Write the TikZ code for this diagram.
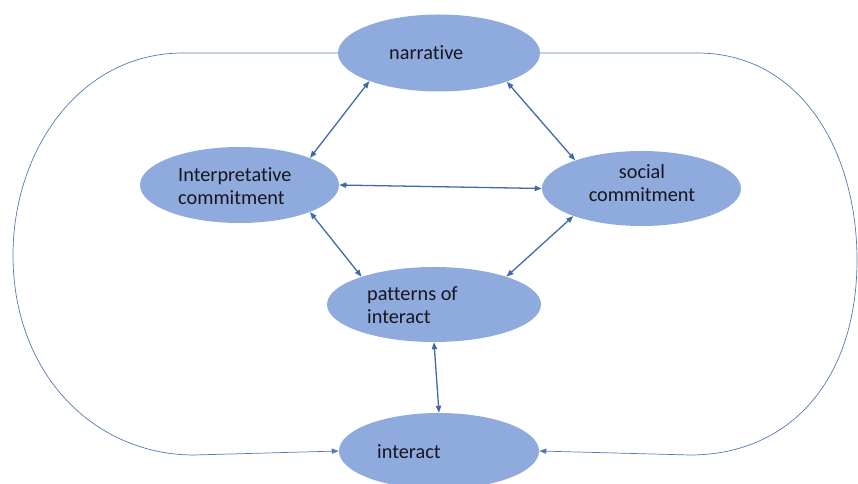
\documentclass[tikz,border=0pt]{standalone}
\usepackage{fontspec}
\setmainfont{Carlito}[Ligatures={NoCommon,NoContextual,NoRequired}]
\usepackage{xcolor}
\usetikzlibrary{arrows.meta,shapes.geometric}
\definecolor{blobfill}{HTML}{8FAADC}
\definecolor{linkcol}{HTML}{4069AB}
\definecolor{loopcol}{HTML}{5679B4}
\definecolor{inkcol}{HTML}{16161F}

\begin{document}
\begin{tikzpicture}[x=0.03cm, y=-0.03cm,
        blob/.style={ellipse, fill=blobfill, draw=none, inner sep=0pt,
            minimum width=6cm, minimum height=2.28cm},
        txt/.style={inner sep=0pt, anchor=west, align=left, text=inkcol,
            font=\fontsize{17.3}{19}\selectfont},
        link/.style={arrows={Triangle[length=6pt,width=4.5pt]-Triangle[length=6pt,width=4.5pt]},
            color=linkcol, line width=1.1pt},
        outerloop/.style={arrows={-Triangle[length=6pt,width=4.5pt]}, color=loopcol, line width=0.6pt}]
        \useasboundingbox (0,0) rectangle (858,484);

        % ellipses
        \node[blob, minimum width=6.06cm, minimum height=2.31cm] (narr) at (439,53) {};
        \node[blob, minimum width=5.97cm] (interp) at (239.5,185) {};
        \node[blob, minimum width=5.97cm, minimum height=2.25cm] (social) at (641.5,188.5) {};
        \node[blob, minimum width=6.42cm, minimum height=2.25cm] (pat) at (434,304.5) {};
        \node[blob] (intr) at (439,451) {};

        % labels
        \node[txt] (narr-t) at (389,53) {narrative};
        \node[txt] (interp-t) at (178,186) {Interpretative\\commitment};
        \node[txt, anchor=center, align=center] (social-t) at (642,183) {social\\commitment};
        \node[txt] (pat-t) at (367,305) {patterns of\\interact};
        \node[txt] (intr-t) at (377,452) {interact};

        % links between the ellipses
        \draw[link] (narr.202) -- (interp.21);
        \draw[link] (narr.337) -- (social.157);
        \draw[link] (interp.east) -- (social.west);
        \draw[link] (interp.339) -- (pat.159);
        \draw[link] (social.202) -- (pat.21);
        \draw[link] (pat.south) -- (intr.north);

        % outer loops
        \coordinate (lt-a) at (183,53);
        \coordinate (lt-b) at (13,255);
        \coordinate (lt-c) at (194,455);
        \coordinate (rt-a) at (697,53);
        \coordinate (rt-b) at (857,260);
        \coordinate (rt-c) at (690,455);
        \draw[outerloop] (narr.west) -- (lt-a) .. controls (80,53) and (13,150) .. (lt-b)
            .. controls (13,375) and (95,455) .. (lt-c) -- (intr.west);
        \draw[outerloop] (narr.east) -- (rt-a) .. controls (800,53) and (857,150) .. (rt-b)
            .. controls (857,380) and (790,455) .. (rt-c) -- (intr.east);
\end{tikzpicture}
\end{document}
